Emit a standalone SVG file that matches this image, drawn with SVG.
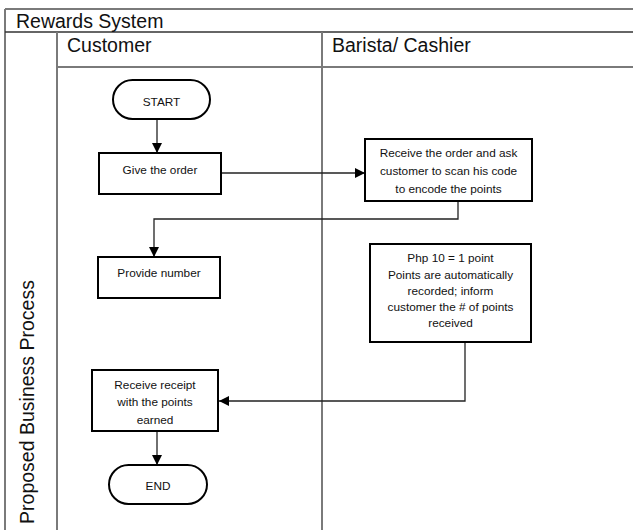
<svg xmlns="http://www.w3.org/2000/svg" width="633" height="530" viewBox="0 0 633 530">
  <style>
    .lane { fill: none; stroke: #7a7a7a; stroke-width: 2; }
    .rule { fill: none; stroke: #333; stroke-width: 1.5; }
    .head { font-family: "Liberation Sans", Arial, sans-serif; font-size: 19.5px; fill: #111; }
    .box { fill: #fff; stroke: #000; stroke-width: 2; }
    .lbl { font-family: "Liberation Sans", Arial, sans-serif; font-size: 11.8px; fill: #111; text-anchor: middle; }
    .wire { fill: none; stroke: #222; stroke-width: 1.3; }
  </style>
  <defs>
    <marker id="arrow" viewBox="0 0 10 10" refX="10" refY="5" markerWidth="10" markerHeight="10" markerUnits="userSpaceOnUse" orient="auto">
      <path d="M0,0 L10,5 L0,10 Z" fill="#000"/>
    </marker>
  </defs>
  <rect width="633" height="530" fill="#fff"/>

  <!-- pool frame and swimlanes -->
  <g id="pool">
    <line class="lane" x1="5" y1="9" x2="633" y2="9"/>
    <line class="lane" x1="5" y1="9" x2="5" y2="530"/>
    <line class="rule" x1="5" y1="32" x2="633" y2="32"/>
    <line class="lane" x1="57" y1="32" x2="57" y2="530"/>
    <line class="lane" x1="57" y1="67" x2="633" y2="67"/>
    <line class="lane" x1="322" y1="32" x2="322" y2="530"/>
    <text class="head" x="16" y="28">Rewards System</text>
    <text class="head" x="67" y="52">Customer</text>
    <text class="head" x="332" y="52">Barista/ Cashier</text>
    <text class="head" transform="translate(34,402) rotate(-90)" text-anchor="middle">Proposed Business Process</text>
  </g>

  <!-- connectors -->
  <g id="connectors">
    <line class="wire" x1="157" y1="119" x2="157" y2="153" marker-end="url(#arrow)"/>
    <line class="wire" x1="221" y1="173" x2="365" y2="173" marker-end="url(#arrow)"/>
    <polyline class="wire" points="458,201 458,219 154,219 154,257" marker-end="url(#arrow)"/>
    <polyline class="wire" points="465,342 465,401 219,401" marker-end="url(#arrow)"/>
    <line class="wire" x1="157" y1="431" x2="157" y2="465" marker-end="url(#arrow)"/>
  </g>

  <g id="start">
    <rect class="box" x="113" y="80" width="97" height="39" rx="19.5"/>
    <text class="lbl" x="161.5" y="106">START</text>
  </g>

  <g id="give-order">
    <rect class="box" x="99" y="153" width="122" height="41"/>
    <text class="lbl" x="160" y="174">Give the order</text>
  </g>

  <g id="receive-order">
    <rect class="box" x="365" y="139" width="167" height="62"/>
    <text class="lbl" x="448.5" y="157">Receive the order and ask</text>
    <text class="lbl" x="448.5" y="175">customer to scan his code</text>
    <text class="lbl" x="448.5" y="193">to encode the points</text>
  </g>

  <g id="provide-number">
    <rect class="box" x="98" y="257" width="122" height="41"/>
    <text class="lbl" x="159" y="277">Provide number</text>
  </g>

  <g id="record-points">
    <rect class="box" x="370" y="244" width="161" height="98"/>
    <text class="lbl" x="450.5" y="262">Php 10 = 1 point</text>
    <text class="lbl" x="450.5" y="279">Points are automatically</text>
    <text class="lbl" x="450.5" y="295">recorded; inform</text>
    <text class="lbl" x="450.5" y="311">customer the # of points</text>
    <text class="lbl" x="450.5" y="327">received</text>
  </g>

  <g id="receive-receipt">
    <rect class="box" x="92" y="370" width="126" height="61"/>
    <text class="lbl" x="155" y="389">Receive receipt</text>
    <text class="lbl" x="155" y="406">with the points</text>
    <text class="lbl" x="155" y="424">earned</text>
  </g>

  <g id="end">
    <rect class="box" x="109" y="465" width="98" height="39" rx="19.5"/>
    <text class="lbl" x="158" y="490">END</text>
  </g>
</svg>
